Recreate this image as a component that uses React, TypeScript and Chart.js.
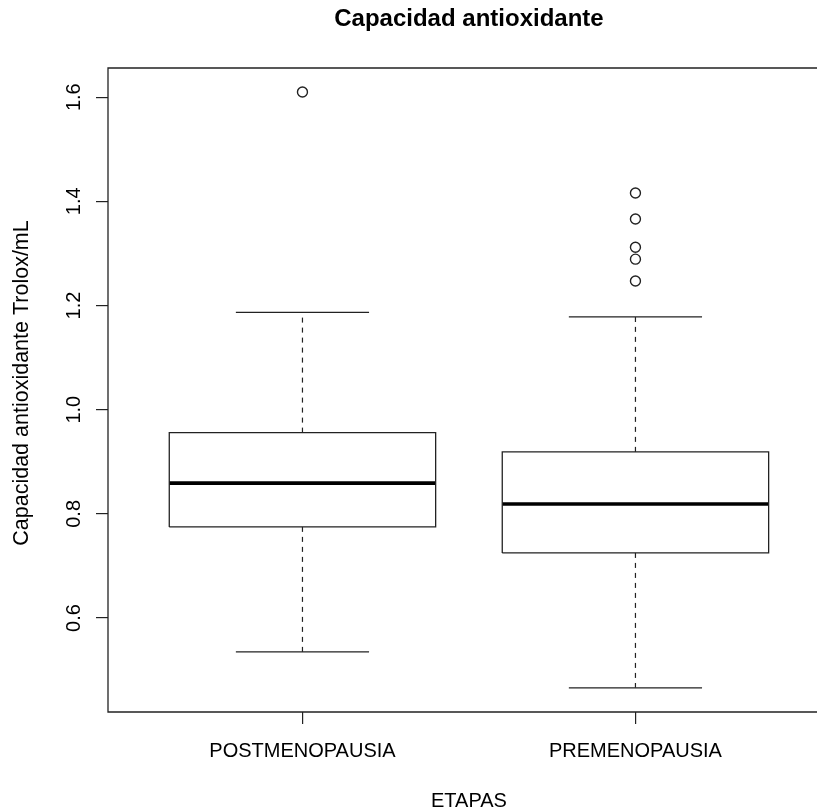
import React, { useEffect, useRef } from 'react';
import { Chart, registerables } from 'chart.js';

Chart.register(...registerables);

// ---- data ----
const categories = ['POSTMENOPAUSIA', 'PREMENOPAUSIA'];
const lowerWhisker = [0.535, 0.466];
const q1Values = [0.775, 0.725];
const medianValues = [0.859, 0.819];
const q3Values = [0.956, 0.919];
const upperWhisker = [1.187, 1.178];
const outliersPost = [1.61];
const outliersPre = [1.416, 1.366, 1.312, 1.289, 1.247];
const yTicks = [0.6, 0.8, 1.0, 1.2, 1.4, 1.6];
const titleText = 'Capacidad antioxidante';
const xTitle = 'ETAPAS';
const yTitle = 'Capacidad antioxidante Trolox/mL';

const BOX_HALF = 0.4;
const CAP_HALF = 0.2;
const FONT = '"Liberation Sans", Arial, Helvetica, sans-serif';
const LINE = '#222';

function buildDatasets() {
  const ds: any[] = [];
  const outlierSets = [outliersPost, outliersPre];
  categories.forEach((_, i) => {
    const c = i + 1;
    const base = { showLine: true, pointRadius: 0, pointHoverRadius: 0, fill: false, tension: 0 };
    // whiskers (dashed)
    ds.push({ ...base, data: [{ x: c, y: q3Values[i] }, { x: c, y: upperWhisker[i] }], borderColor: LINE, borderWidth: 1.2, borderDash: [5, 5] });
    ds.push({ ...base, data: [{ x: c, y: q1Values[i] }, { x: c, y: lowerWhisker[i] }], borderColor: LINE, borderWidth: 1.2, borderDash: [5, 5] });
    // caps
    ds.push({ ...base, data: [{ x: c - CAP_HALF, y: upperWhisker[i] }, { x: c + CAP_HALF, y: upperWhisker[i] }], borderColor: LINE, borderWidth: 1.3 });
    ds.push({ ...base, data: [{ x: c - CAP_HALF, y: lowerWhisker[i] }, { x: c + CAP_HALF, y: lowerWhisker[i] }], borderColor: LINE, borderWidth: 1.3 });
    // box
    ds.push({
      ...base,
      data: [
        { x: c - BOX_HALF, y: q1Values[i] },
        { x: c + BOX_HALF, y: q1Values[i] },
        { x: c + BOX_HALF, y: q3Values[i] },
        { x: c - BOX_HALF, y: q3Values[i] },
        { x: c - BOX_HALF, y: q1Values[i] },
      ],
      borderColor: LINE,
      borderWidth: 1.3,
      borderJoinStyle: 'miter',
    });
    // median
    ds.push({ ...base, data: [{ x: c - BOX_HALF, y: medianValues[i] }, { x: c + BOX_HALF, y: medianValues[i] }], borderColor: '#000', borderWidth: 3.6, borderCapStyle: 'butt' });
    // outliers
    ds.push({
      showLine: false,
      data: outlierSets[i].map((v) => ({ x: c, y: v })),
      pointRadius: 5,
      pointHoverRadius: 5,
      pointBorderWidth: 1.4,
      pointBorderColor: LINE,
      pointBackgroundColor: 'rgba(0,0,0,0)',
      borderColor: LINE,
    });
  });
  return ds;
}

const framePlugin = {
  id: 'rFrame',
  afterDraw(chart: any) {
    const { ctx, chartArea: a, scales } = chart;
    ctx.save();
    ctx.strokeStyle = LINE;
    ctx.lineWidth = 1.3;
    ctx.beginPath();
    ctx.moveTo(chart.width + 10, a.top);
    ctx.lineTo(a.left, a.top);
    ctx.lineTo(a.left, a.bottom);
    ctx.lineTo(chart.width + 10, a.bottom);
    ctx.stroke();
    const cx = scales.x.getPixelForValue(1.5);
    ctx.fillStyle = '#000';
    ctx.textAlign = 'center';
    ctx.textBaseline = 'middle';
    // main title
    ctx.font = `bold 24px ${FONT}`;
    ctx.fillText(titleText, cx, 19);
    // x title
    ctx.font = `20px ${FONT}`;
    ctx.fillText(xTitle, cx, 801);
    // y title
    ctx.translate(22, 383);
    ctx.rotate(-Math.PI / 2);
    ctx.font = `21.5px ${FONT}`;
    ctx.fillText(yTitle, 0, 0);
    ctx.restore();
  },
};

export default function App() {
  const ref = useRef<HTMLCanvasElement | null>(null);

  useEffect(() => {
    if (!ref.current) return;
    const chart = new Chart(ref.current, {
      type: 'scatter',
      data: { datasets: buildDatasets() },
      options: {
        responsive: false,
        animation: false,
        devicePixelRatio: 1,
        layout: { padding: { top: 68, left: 0, right: 0, bottom: 0 } },
        plugins: { legend: { display: false }, tooltip: { enabled: false }, title: { display: false } },
        events: [],
        scales: {
          x: {
            type: 'linear',
            min: 0.416,
            max: 2.526,
            afterBuildTicks: (s: any) => {
              s.ticks = categories.map((_, i) => ({ value: i + 1 }));
            },
            afterFit: (s: any) => {
              s.height = 100;
            },
            ticks: {
              autoSkip: false,
              maxRotation: 0,
              minRotation: 0,
              padding: 15,
              color: '#000',
              font: { family: FONT, size: 20 },
              callback: (v: any) => categories[Math.round(v) - 1] ?? '',
            },
            grid: { drawOnChartArea: false, drawTicks: true, tickLength: 12, color: LINE, lineWidth: 1.2 },
            border: { display: false },
            title: { display: false },
          },
          y: {
            type: 'linear',
            min: 0.4196,
            max: 1.656,
            afterBuildTicks: (s: any) => {
              s.ticks = yTicks.map((v) => ({ value: v }));
            },
            afterFit: (s: any) => {
              s.width = 108;
            },
            ticks: {
              autoSkip: false,
              minRotation: 90,
              maxRotation: 90,
              crossAlign: 'center',
              padding: 8,
              color: '#000',
              font: { family: FONT, size: 20 },
              callback: (v: any) => Number(v).toFixed(1),
            },
            grid: { drawOnChartArea: false, drawTicks: true, tickLength: 12, color: LINE, lineWidth: 1.2 },
            border: { display: false },
            title: { display: false },
          },
        },
      } as any,
      plugins: [framePlugin],
    });
    return () => chart.destroy();
  }, []);

  return (
    <div style={{ position: 'fixed', left: 0, top: 0, width: 817, height: 812, background: '#fff', overflow: 'hidden' }}>
      <canvas ref={ref} width={817} height={812} style={{ display: 'block' }} />
    </div>
  );
}
